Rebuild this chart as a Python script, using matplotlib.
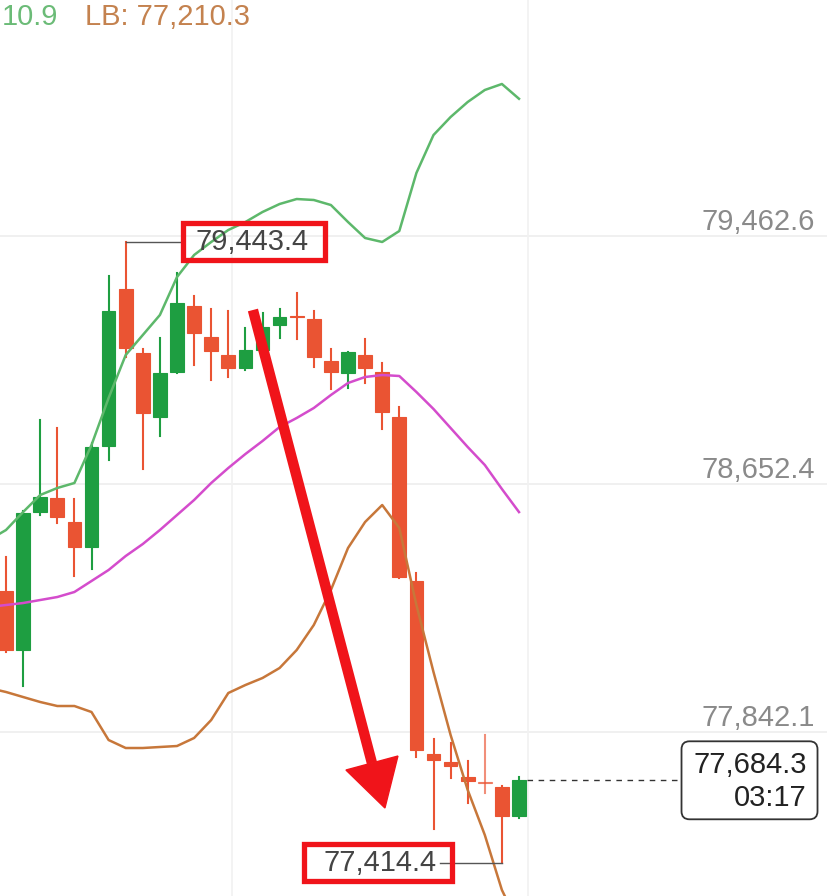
import matplotlib
matplotlib.use("Agg")
import matplotlib.pyplot as plt
from matplotlib.patches import Rectangle, FancyBboxPatch, Polygon

plt.rcParams["font.family"] = ["Liberation Sans", "DejaVu Sans"]

# candles (oldest first), 30 = current candle
opens = [78302.7, 78110.0, 78560.8, 78606.6, 78528.2, 78446.5, 78776.5, 79289.4,
         79080.3, 78871.2, 79018.2, 79233.9, 79132.6, 79073.8, 79031.3, 79090.1,
         79171.8, 79201.2, 79191.4, 79054.2, 79015.0, 79073.8, 79018.2, 78871.2,
         78335.4, 77770.2, 77744.1, 77695.1, 77678.7, 77662.4, 77567.6]
highs = [78413.8, 78564.1, 78861.4, 78835.3, 78603.3, 78786.3, 79331.9, 79443.4,
         79093.4, 79129.3, 79341.7, 79266.5, 79224.1, 79217.5, 79162.0, 79211.0,
         79224.1, 79276.3, 79217.5, 79093.4, 79083.6, 79126.1, 79047.6, 78903.9,
         78361.6, 77819.2, 77806.1, 77747.3, 77832.3, 77665.7, 77695.1]
lows = [78103.5, 77992.4, 78551.0, 78524.9, 78351.8, 78374.6, 78730.7, 79067.2,
        78701.3, 78809.1, 79015.0, 79041.1, 78992.1, 79001.9, 79024.8, 79073.8,
        79129.3, 79126.1, 79034.6, 78962.7, 78966.0, 78982.3, 78832.0, 78345.3,
        77760.4, 77525.2, 77691.8, 77610.1, 77642.8, 77414.4, 77561.1]
closes = [78110.0, 78557.6, 78609.8, 78544.5, 78446.5, 78773.2, 79217.5, 79096.7,
          78884.3, 79015.0, 79243.7, 79145.7, 79086.8, 79031.3, 79090.1, 79165.3,
          79197.9, 79197.9, 79067.2, 79018.2, 79083.6, 79031.3, 78887.6, 78348.5,
          77783.3, 77750.6, 77731.0, 77682.0, 77675.4, 77567.6, 77684.3]

# Bollinger bands, starting one candle before the first visible one
band_x = list(range(-1, 31))
upper_band = [78469.4, 78502.0, 78560.8, 78616.4, 78639.3, 78655.6, 78779.7, 78933.3,
              79073.8, 79139.1, 79204.5, 79328.6, 79400.5, 79443.0, 79482.2, 79508.3,
              79541.0, 79567.1, 79583.4, 79580.2, 79563.8, 79508.3, 79456.0, 79443.0,
              79478.9, 79668.4, 79792.5, 79851.3, 79900.4, 79939.6, 79959.2, 79910.9]
middle_band = [78250.5, 78257.0, 78263.5, 78273.3, 78283.1, 78299.5, 78335.4, 78371.4,
               78417.1, 78456.3, 78502.0, 78551.0, 78600.0, 78655.6, 78704.6, 78750.3,
               78792.8, 78838.5, 78868.0, 78900.6, 78943.1, 78982.3, 79001.9, 79008.4,
               79005.2, 78952.9, 78897.4, 78835.3, 78773.2, 78714.4, 78636.0, 78560.6]
lower_band = [77985.8, 77972.8, 77956.4, 77940.1, 77927.0, 77927.0, 77907.4, 77815.9,
              77789.8, 77789.8, 77793.1, 77796.3, 77822.5, 77881.3, 77969.5, 77995.6,
              78018.5, 78051.2, 78110.0, 78191.7, 78306.0, 78443.2, 78528.2, 78583.7,
              78508.6, 78257.0, 78038.1, 77832.3, 77652.6, 77505.6, 77325.9, 77210.3]

price_levels = [79462.6, 78652.4, 77842.1]
time_lines = [13.22, 30.53]
high_label = 79443.4
low_label = 77414.4
last_price = 77684.3
countdown = "03:17"

GREEN = "#1e9e41"
RED = "#ea5433"
RED_MARK = "#f0141a"

W, H = 828, 896
fig = plt.figure(figsize=(W / 100, H / 100), dpi=100)
ax = fig.add_axes([0, 0, 1, 1])
ax.axis("off")
x0, x1 = -0.351, 48.07
y0, y1 = 77306.3, 80233.6
ax.set_xlim(x0, x1)
ax.set_ylim(y0, y1)
dx = (x1 - x0) / W   # data units per pixel
dy = (y1 - y0) / H

# grid
for p in price_levels:
    ax.axhline(p, color="#efefef", lw=1.3, zorder=0)
    ax.annotate(f"{p:,.1f}", xy=(0.984, p), xycoords=("axes fraction", "data"),
                xytext=(0, 4), textcoords="offset points", ha="right", va="baseline",
                fontsize=21, color="#8a8a8a")
for t in time_lines:
    ax.axvline(t, color="#f2f2f2", lw=1.3, zorder=0)

# candles
for i in range(len(opens)):
    o, h, l, c = opens[i], highs[i], lows[i], closes[i]
    col = GREEN if c > o else RED
    alpha = 0.65 if i == 28 else 1
    ax.plot([i, i], [l, h], color=col, lw=1.5, alpha=alpha, zorder=2)
    ax.bar(i, abs(c - o), bottom=min(o, c), width=0.8, color=col,
           edgecolor=col, linewidth=0.8, alpha=alpha, zorder=2)

# bands
ax.plot(band_x, upper_band, color="#5db86b", lw=1.8, zorder=3)
ax.plot(band_x, middle_band, color="#d44ccc", lw=1.8, zorder=3)
ax.plot(band_x, lower_band, color="#c7773a", lw=1.8, zorder=3)

# high / low markers
hi_i = highs.index(high_label)
lo_i = lows.index(low_label)
hx, lx = 14.53, 21.78
ax.plot([hi_i, hx - 72 * dx], [high_label, high_label], color="#555555", lw=1, zorder=4)
ax.text(hx - 2 * dx, high_label, f"{high_label:,.1f}", ha="center", va="center",
        fontsize=21, color="#444444", zorder=5)
ax.add_patch(Rectangle((hx - 71 * dx, high_label - 18.5 * dy), 142 * dx, 37 * dy,
                       fill=False, ec=RED_MARK, lw=3.8, zorder=5))
ax.plot([lo_i, lx + 62 * dx], [low_label, low_label], color="#555555", lw=1, zorder=4)
ax.text(lx + 2 * dx, low_label, f"{low_label:,.1f}", ha="center", va="center",
        fontsize=21, color="#444444", zorder=5)
ax.add_patch(Rectangle((lx - 74 * dx, low_label - 18.5 * dy), 148 * dx, 37 * dy,
                       fill=False, ec=RED_MARK, lw=3.8, zorder=5))

# current price tag
n = len(closes) - 1
bx = 43.48
ax.plot([n + 0.45, bx - 68 * dx], [last_price, last_price], color="#333333",
        lw=1, ls=(0, (4, 4)), zorder=4)
ax.add_patch(FancyBboxPatch((bx - 68 * dx, last_price - 39 * dy), 136 * dx, 78 * dy,
                            boxstyle=f"round,pad=0,rounding_size={8 * dx}",
                            mutation_aspect=dy / dx, fc="white", ec="#333333",
                            lw=1.3, zorder=5))
ax.text(bx + 57 * dx, last_price + 15 * dy, f"{last_price:,.1f}", ha="right",
        va="center", fontsize=21, color="#222222", zorder=6)
ax.text(bx + 57 * dx, last_price - 18 * dy, countdown, ha="right",
        va="center", fontsize=21, color="#222222", zorder=6)

# big red arrow
ax.plot([14.44, 21.40], [79220.8, 77740.7], color=RED_MARK, lw=7.5,
        solid_capstyle="butt", zorder=7)
ax.add_patch(Polygon([(19.88, 77717.9), (22.92, 77763.6), (22.16, 77593.8)],
                     closed=True, fc=RED_MARK, ec=RED_MARK, lw=1, zorder=7))

# indicator header
fig.text(2 / W, 1 - 25 / H, "10.9", fontsize=21, color="#6bbb77", va="baseline")
fig.text(85 / W, 1 - 25 / H, "LB: 77,210.3", fontsize=21, color="#c4824f", va="baseline")

fig.savefig("out.png", dpi=100)
